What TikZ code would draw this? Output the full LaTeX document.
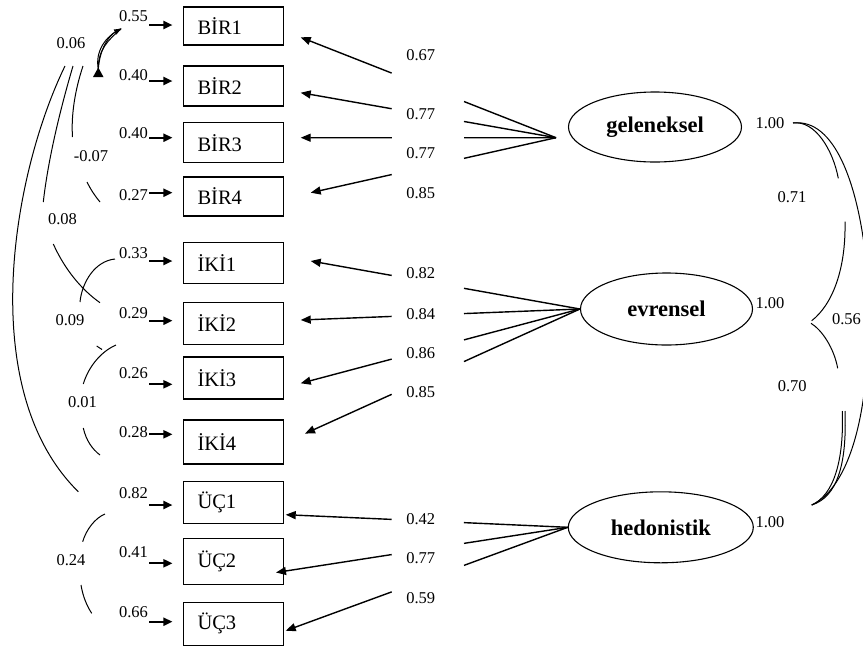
\documentclass[tikz,border=0pt]{standalone}
\usepackage{fontspec}
\setmainfont{Liberation Serif}
\usetikzlibrary{shapes.geometric,arrows.meta,calc}

% a loading: line from the latent variable to the indicator, broken where the value sits
\newcommand{\loadpath}[2]{%
  \draw[load] (#1) -- (intersection of #1--#2 and gR1--gR2);
  \draw[loadtip] (intersection of #1--#2 and gL1--gL2) -- (#2);}

\begin{document}
\begin{tikzpicture}[x=1pt,y=-1pt,
  ind/.style={draw,line width=1.1pt,rectangle,minimum width=100pt,text width=72pt,
              inner xsep=14pt,inner ysep=0pt,align=left,
              font=\fontsize{20.5}{22}\selectfont},
  lat/.style={draw,line width=1.1pt,ellipse,inner sep=0pt,
              font=\fontsize{22.5}{24}\selectfont\bfseries},
  num/.style={inner sep=0pt,font=\fontsize{16.5}{18}\selectfont},
  err/.style={line width=2pt,-{Triangle[length=9pt,width=8pt]},shorten >=10.5pt},
  load/.style={line width=1.4pt},
  loadtip/.style={line width=1.4pt,-{Triangle[length=10pt,width=8pt]}},
  cov/.style={line width=1pt},
]
\clip (0,0) rectangle (863,649);

% indicators
\node[ind,minimum height=38pt] (b1) at (233.5,26)    {BİR1};
\node[ind,minimum height=40pt] (b2) at (233.5,86)    {BİR2};
\node[ind,minimum height=40pt] (b3) at (233.5,142.7) {BİR3};
\node[ind,minimum height=39pt] (b4) at (233.5,196.5) {BİR4};
\node[ind,minimum height=40.6pt] (i1) at (233.5,263)   {İKİ1};
\node[ind,minimum height=41.6pt] (i2) at (233.5,323.5) {İKİ2};
\node[ind,minimum height=42pt]   (i3) at (233.5,378)   {İKİ3};
\node[ind,minimum height=44pt]   (i4) at (233.5,442)   {İKİ4};
\node[ind,minimum height=41.6pt] (u1) at (233.5,502.5) {ÜÇ1};
\node[ind,minimum height=46pt]   (u2) at (233.5,561.3) {ÜÇ2};
\node[ind,minimum height=42.7pt] (u3) at (233.5,623.7) {ÜÇ3};

% latent variables
\node[lat,minimum width=173pt,minimum height=70pt] (gel) at (655,127)   {geleneksel};
\node[lat,minimum width=172pt,minimum height=72pt] (evr) at (666.5,309) {evrensel};
\node[lat,minimum width=185pt,minimum height=71pt] (hed) at (660.8,527.3) {hedonistik};

% latent variances
\node[num] (vg) at (770,123.3) {1.00};
\node[num] (ve) at (770,302.7) {1.00};
\node[num] (vh) at (770,522)   {1.00};

% error terms
\foreach \n/\b/\y/\ly/\v in {1/b1/25/16/0.55, 2/b2/81/75/0.40, 3/b3/137.7/133/0.40,
    4/b4/192.7/195/0.27, 5/i1/261/253.5/0.33, 6/i2/320.7/313.5/0.29,
    7/i3/384.3/373.5/0.26, 8/i4/434.3/432.5/0.28, 9/u1/505/493.5/0.82,
    10/u2/563.3/552.5/0.41, 11/u3/621.7/612/0.66}{
  \coordinate (e\n) at (149,\y);
  \node[num] (el\n) at (133.5,\ly) {\v};
  \draw[err] (e\n) -- (e\n -| \b.west);
}

% where the loading lines break
\coordinate (gR1) at (464,0);   \coordinate (gR2) at (464,649);
\coordinate (gL1) at (391.7,0); \coordinate (gL2) at (391.7,649);

% meeting points of the loadings
\coordinate (G) at (556,137.7);
\coordinate (E) at (evr.west);
\coordinate (H) at (hed.west);

% arrow tips at the indicators
\coordinate (g1t) at (300.7,37.3);
\coordinate (g2t) at (300.7,92.7);
\coordinate (g3t) at (300.7,137.7);
\coordinate (g4t) at (310.7,192.7);
\coordinate (v1t) at (310.7,261);
\coordinate (v2t) at (300.7,320);
\coordinate (v3t) at (300.7,383.3);
\coordinate (v4t) at (305,433.6);
\coordinate (h1t) at (285.7,514.7);
\coordinate (h2t) at (276,572.5);
\coordinate (h3t) at (285.7,630.7);

\foreach \t in {g1t,g2t,g3t,g4t}{\loadpath{G}{\t}}
\foreach \t in {v1t,v2t,v3t,v4t}{\loadpath{E}{\t}}
\foreach \t in {h1t,h2t,h3t}{\loadpath{H}{\t}}

% loading values
\foreach \y/\v/\k in {55/0.67/1, 114.3/0.77/2, 153.3/0.77/3, 192.7/0.85/4,
    273.3/0.82/5, 314/0.84/6, 352.7/0.86/7, 392.3/0.85/8,
    519.3/0.42/9, 558.3/0.77/10, 598.3/0.59/11}{
  \node[num] (ld\k) at (420.7,\y) {\v};
}

% correlations of the latent variables
\draw[cov] (793,123) .. controls (815,120) and (833,150) .. (838.3,178.3);
\draw[cov] (845,221.7) .. controls (846,270) and (832,305) .. (811.7,320.7);
\node[num] (c71) at (792,196.7) {0.71};
\draw[cov] (811,323.3) .. controls (822,330) and (834,348) .. (837.7,368.3);
\draw[cov] (842.3,411) .. controls (844,460) and (834,495) .. (811.7,505);
\draw[cov] (845,411) .. controls (847,465) and (837,497) .. (811.7,505);
\node[num] (c70) at (792.3,386) {0.70};
\draw[cov] (793,123) .. controls (835,118) and (858,185) .. (866,260);
\draw[cov] (866,375) .. controls (860,445) and (840,492) .. (811.7,505);
\node[num] (c56) at (846.5,319.3) {0.56};

% error covariances
\fill (98.3,67.5) -- (103.5,77) -- (93,77) -- cycle;
\draw[cov] (98.3,69) .. controls (95,52) and (105,36) .. (121,29);
\draw[cov] (98.3,69) .. controls (98,50) and (108,40) .. (121,29);
\draw[cov,-{Latex[length=8pt,width=6pt]}] (98.3,69) .. controls (100,47) and (110,35) .. (122,28);
\node[num] (c06) at (71,43) {0.06};

\draw[cov] (83,66) .. controls (75,90) and (71,115) .. (72.5,137);
\draw[cov] (87,182) .. controls (91,190) and (95,196) .. (100,202);
\node[num] (c07) at (91,156.5) {-0.07};

\draw[cov] (73,66) .. controls (60,110) and (48,160) .. (43.3,202);
\draw[cov] (53.3,244) .. controls (65,270) and (82,290) .. (100,302.7);
\node[num] (c08) at (62.5,219) {0.08};

\draw[cov] (65,66) .. controls (12,175) and (-25,390) .. (78.3,491.7);

\draw[cov] (80,302) .. controls (82,282) and (95,261) .. (115,259);
\node[num] (c09) at (70,320) {0.09};

\draw[cov] (116,345) .. controls (100,352) and (88,368) .. (83.3,384);
\draw[cov] (96.7,346) -- (102,349.5);
\draw[cov] (83.3,428) .. controls (86,440) and (92,449) .. (100,455);
\node[num] (c01) at (82.5,402.5) {0.01};

\draw[cov] (105,514) .. controls (95,518) and (86,530) .. (82.7,541.7);
\draw[cov] (81,585) .. controls (83,597) and (87,606) .. (91.7,613.3);
\node[num] (c24) at (71,560) {0.24};
\end{tikzpicture}
\end{document}
